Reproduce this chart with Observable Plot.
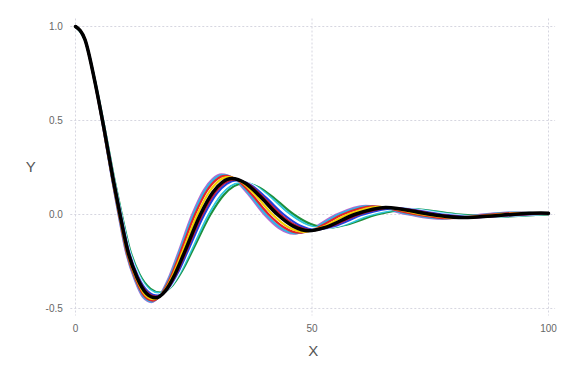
<!DOCTYPE html>
<html><head><meta charset="utf-8">
<script src="https://cdn.jsdelivr.net/npm/d3@7"></script>
<script src="https://cdn.jsdelivr.net/npm/@observablehq/plot@0.6"></script>
<style>body{margin:0;background:#fff;} #chart{width:576px;height:384px;}</style>
</head><body><div id="chart"></div>
<script>
// Series values (x, y pairs per curve)
const magentaX = [0,1.93,3.87,5.80,7.74,9.09,10.64,12.57,14.31,16.02,17.76,19.63,21.50,24.67,27.10,28.97,30.84,33.64,36.45,39.91,42.99,46.07,49.53,55.14,61.31,70.37,76.64,84.11,91.96,100];
const magentaY = [1,0.936,0.727,0.469,0.185,0,-0.197,-0.350,-0.441,-0.466,-0.432,-0.342,-0.219,0,0.129,0.189,0.213,0.186,0.110,0,-0.072,-0.102,-0.080,0,0.046,0,-0.022,-0.005,0.010,0.001];
const cyanX = [0,1.94,3.89,5.83,7.77,9.13,10.69,12.63,14.41,16.13,17.92,19.81,21.70,24.91,27.36,29.25,31.13,33.96,36.79,40.28,43.40,46.51,50.00,55.66,61.89,71.04,77.36,84.91,92.83,100];
const cyanY = [1,0.935,0.726,0.468,0.184,0,-0.196,-0.348,-0.438,-0.463,-0.428,-0.339,-0.217,0,0.127,0.187,0.210,0.183,0.108,0,-0.071,-0.100,-0.078,0,0.045,0,-0.021,-0.005,0.010,0.0025];
const redX = [0,1.96,3.91,5.87,7.83,9.20,10.76,12.72,14.55,16.32,18.18,20.10,22.01,25.26,27.75,29.67,31.58,34.45,37.32,40.86,44.02,47.18,50.72,56.46,62.78,72.06,78.47,86.12,94.16,100];
const redY = [1,0.934,0.724,0.466,0.183,0,-0.195,-0.345,-0.434,-0.458,-0.423,-0.334,-0.213,0,0.125,0.183,0.205,0.178,0.105,0,-0.068,-0.097,-0.075,0,0.043,0,-0.020,-0.004,0.009,0.004];
const yellowX = [0,1.98,3.95,5.93,7.90,9.29,10.87,12.84,14.74,16.57,18.54,20.49,22.44,25.76,28.29,30.24,32.20,35.12,38.05,41.66,44.88,48.10,51.71,57.56,64.00,73.46,80.00,87.80,96.00,100];
const yellowY = [1,0.932,0.722,0.463,0.182,0,-0.193,-0.340,-0.428,-0.451,-0.416,-0.327,-0.209,0,0.121,0.178,0.199,0.172,0.102,0,-0.066,-0.092,-0.071,0,0.041,0,-0.018,-0.004,0.008,0.006];
const blackX = [0,2,4,6,8,9.4,11,13,15,16.9,19,21,23,26.4,29,31,33,36,39,42.7,46,49.3,53,59.0,65.6,75.3,82,90,98.4,100];
const blackY = [1,0.93,0.718,0.46,0.18,0,-0.19,-0.335,-0.42,-0.443,-0.406,-0.319,-0.203,0,0.117,0.171,0.191,0.165,0.097,0,-0.062,-0.087,-0.067,0,0.0374,0,-0.0166,-0.0035,0.0074,0.007];
const crimsonX = [0,2.02,4.03,6.05,8.06,9.47,11.08,13.10,15.16,17.11,19.29,21.32,23.35,26.80,29.44,31.47,33.50,36.55,39.59,43.35,46.70,50.05,53.81,59.90,66.60,76.45,83.25,91.37,100];
const crimsonY = [1,0.929,0.716,0.458,0.179,0,-0.188,-0.332,-0.415,-0.437,-0.400,-0.314,-0.199,0,0.114,0.167,0.186,0.161,0.094,0,-0.060,-0.084,-0.064,0,0.036,0,-0.016,-0.003,0.007];
const blueX = [0,2.03,4.06,6.09,8.12,9.55,11.17,13.20,15.32,17.32,19.59,21.65,23.71,27.22,29.90,31.96,34.02,37.11,40.21,44.02,47.42,50.82,54.64,60.82,67.63,77.63,84.54,92.78,100];
const blueY = [1,0.927,0.714,0.456,0.178,0,-0.187,-0.328,-0.410,-0.432,-0.394,-0.309,-0.196,0,0.112,0.163,0.182,0.156,0.091,0,-0.058,-0.081,-0.062,0,0.034,0,-0.015,-0.003,0.006];
const whiteX = [0,2.05,4.09,6.14,8.19,9.62,11.26,13.31,15.49,17.54,19.90,21.99,24.08,27.64,30.37,32.46,34.55,37.70,40.84,44.71,48.17,51.62,55.50,61.78,68.69,78.85,85.86,94.24,100];
const whiteY = [1,0.926,0.711,0.454,0.177,0,-0.185,-0.325,-0.405,-0.426,-0.388,-0.304,-0.192,0,0.109,0.159,0.177,0.152,0.089,0,-0.056,-0.077,-0.059,0,0.032,0,-0.014,-0.003,0.005];
const cyan2X = [0,2.06,4.13,6.19,8.26,9.70,11.35,13.41,15.67,17.76,20.21,22.34,24.47,28.09,30.85,32.98,35.11,38.30,41.49,45.43,48.94,52.45,56.38,62.77,69.79,80.11,87.23,95.74,100];
const cyan2Y = [1,0.924,0.709,0.451,0.175,0,-0.183,-0.321,-0.400,-0.420,-0.382,-0.298,-0.189,0,0.107,0.155,0.172,0.147,0.086,0,-0.054,-0.074,-0.057,0,0.030,0,-0.013,-0.003,0.003];
const greenX = [0,2.08,4.16,6.24,8.32,9.78,11.45,13.53,15.85,18.00,20.54,22.70,24.86,28.54,31.35,33.51,35.68,38.92,42.16,46.16,49.73,53.30,57.30,63.78,70.92,81.41,88.65,97.30,100];
const greenY = [1,0.922,0.706,0.449,0.174,0,-0.182,-0.318,-0.395,-0.416,-0.376,-0.293,-0.185,0,0.104,0.151,0.167,0.143,0.083,0,-0.051,-0.071,-0.054,0,0.029,0,-0.012,-0.002,0.001];

const xTicks = [0, 50, 100];
const yTicks = [-0.5, 0, 0.5, 1.0];
const xLabel = "X";
const yLabel = "Y";

const colored = [
  {x: magentaX, y: magentaY, color: "#b86ad0"},
  {x: greenX, y: greenY, color: "#1f8f3a"},
  {x: cyanX, y: cyanY, color: "#2cb5e8"},
  {x: cyan2X, y: cyan2Y, color: "#2fc6dc"},
  {x: redX, y: redY, color: "#e0232c"},
  {x: whiteX, y: whiteY, color: "#ffffff"},
  {x: yellowX, y: yellowY, color: "#f4d000"},
  {x: blueX, y: blueY, color: "#1f3fe0"},
  {x: crimsonX, y: crimsonY, color: "#c0143c"}
];
const toRows = (xs, ys) => xs.map((x, i) => ({x, y: ys[i]}));

const font = "'Liberation Sans', Arial, sans-serif";
const marks = [
  Plot.gridX(xTicks, {stroke: "#d6d6e0", strokeOpacity: 1, strokeDasharray: "2,2"}),
  Plot.gridY(yTicks, {stroke: "#d6d6e0", strokeOpacity: 1, strokeDasharray: "2,2"}),
  Plot.axisX(xTicks, {tickSize: 0, tickPadding: 9, label: null, fontSize: 10, fill: "#666", tickFormat: d => String(d)}),
  Plot.axisY(yTicks, {tickSize: 0, tickPadding: 8, label: null, fontSize: 10, fill: "#666", tickFormat: d => d.toFixed(1)}),
  ...colored.map(s => Plot.line(toRows(s.x, s.y), {x: "x", y: "y", stroke: s.color, strokeWidth: 2.2, curve: "monotone-x"})),
  Plot.line(toRows(blackX, blackY), {x: "x", y: "y", stroke: "#000", strokeWidth: 3.5, curve: "monotone-x"}),
  Plot.text([yLabel], {frameAnchor: "left", dx: -40, text: d => d, fontSize: 15, fill: "#555", textAnchor: "middle"}),
  Plot.text([xLabel], {frameAnchor: "bottom", dy: 35, text: d => d, fontSize: 15, fill: "#555", textAnchor: "middle", lineAnchor: "middle"})
];

const chart = Plot.plot({
  width: 576,
  height: 384,
  marginLeft: 70.3,
  marginRight: 20.9,
  marginTop: 18.5,
  marginBottom: 68.5,
  style: {fontFamily: font, background: "#fff"},
  x: {domain: [-1, 101.5], axis: null},
  y: {domain: [-0.54, 1.04], axis: null},
  marks
});
document.getElementById("chart").appendChild(chart);
</script>
</body></html>
